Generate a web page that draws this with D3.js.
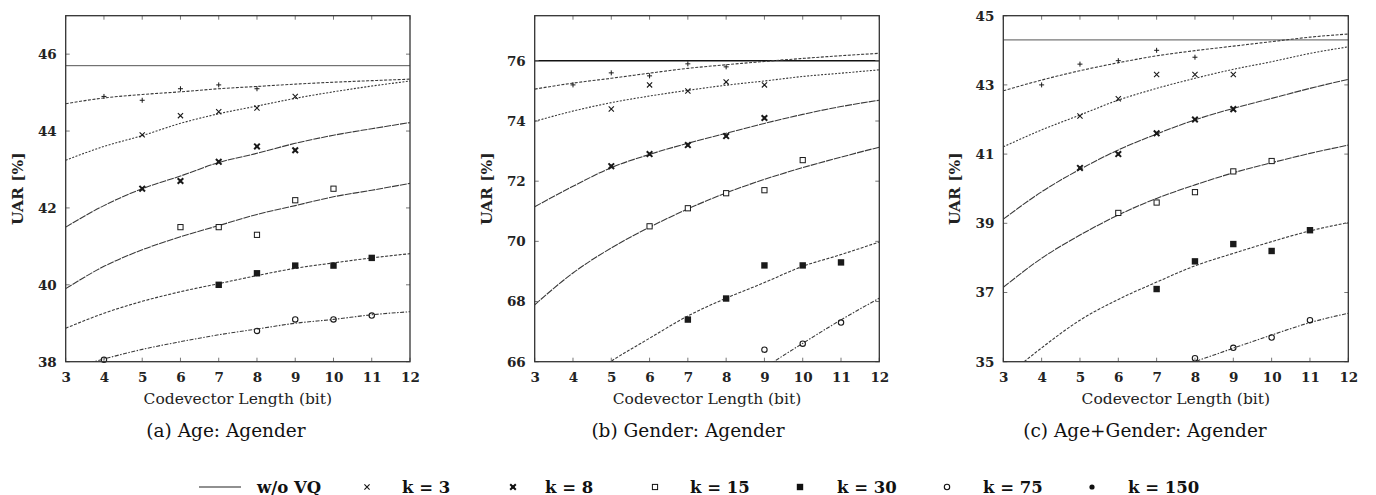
<!DOCTYPE html>
<html>
<head>
<meta charset="utf-8">
<script src="https://cdn.jsdelivr.net/npm/d3@7"></script>
<style>
  body { margin: 0; background: #fff; }
  svg { display: block; }
</style>
</head>
<body>
<div id="chart"></div>
<script>
// codevector lengths
var curveBits = [3, 4, 5, 6, 7, 8, 9, 10, 11, 12];
var pointBits = [4, 5, 6, 7, 8, 9, 10, 11];
var xTicks = [3, 4, 5, 6, 7, 8, 9, 10, 11, 12];

// legend
var legendLabels = ["w/o VQ", "k = 3", "k = 8", "k = 15", "k = 30", "k = 75", "k = 150"];
var legendSymbols = ["line", "cross", "star", "square", "fsquare", "circle", "dot"];
// markers used inside the plots, top series to bottom
var plotSymbols = ["plus", "cross", "star", "square", "fsquare", "circle"];

// (a) Age: Agender
var ageTicks = [38, 40, 42, 44, 46];
var ageNoVQ = 45.7;
var agePoints = [
  [44.9, 44.8, 45.1, 45.2, 45.1, null, null, null],
  [null, 43.9, 44.4, 44.5, 44.6, 44.9, null, null],
  [null, 42.5, 42.7, 43.2, 43.6, 43.5, null, null],
  [null, null, 41.5, 41.5, 41.3, 42.2, 42.5, null],
  [null, null, null, 40.0, 40.3, 40.5, 40.5, 40.7],
  [38.05, null, null, null, 38.8, 39.1, 39.1, 39.2]
];
var ageCurves = [
  [44.71, 44.86, 44.95, 45.02, 45.10, 45.16, 45.22, 45.27, 45.31, 45.35],
  [43.24, 43.60, 43.88, 44.20, 44.45, 44.65, 44.85, 45.02, 45.17, 45.30],
  [41.50, 42.06, 42.50, 42.83, 43.18, 43.42, 43.68, 43.89, 44.06, 44.22],
  [39.90, 40.48, 40.91, 41.25, 41.54, 41.83, 42.06, 42.29, 42.46, 42.64],
  [38.87, 39.26, 39.57, 39.82, 40.03, 40.24, 40.43, 40.57, 40.70, 40.81],
  [37.78, 38.07, 38.32, 38.52, 38.70, 38.85, 39.00, 39.10, 39.22, 39.30]
];

// (b) Gender: Agender
var genderTicks = [66, 68, 70, 72, 74, 76];
var genderNoVQ = 76.0;
var genderPoints = [
  [75.2, 75.6, 75.5, 75.9, 75.8, null, null, null],
  [null, 74.4, 75.2, 75.0, 75.3, 75.2, null, null],
  [null, 72.5, 72.9, 73.2, 73.5, 74.1, null, null],
  [null, null, 70.5, 71.1, 71.6, 71.7, 72.7, null],
  [null, null, null, 67.4, 68.1, 69.2, 69.2, 69.3],
  [null, null, null, null, null, 66.4, 66.6, 67.3]
];
var genderCurves = [
  [75.06, 75.26, 75.42, 75.59, 75.75, 75.87, 75.98, 76.08, 76.17, 76.25],
  [73.99, 74.33, 74.61, 74.83, 75.02, 75.19, 75.33, 75.48, 75.59, 75.70],
  [71.15, 71.83, 72.45, 72.89, 73.26, 73.59, 73.92, 74.22, 74.48, 74.69],
  [67.89, 68.95, 69.78, 70.47, 71.08, 71.61, 72.06, 72.45, 72.80, 73.13],
  [64.20, 65.15, 66.02, 66.78, 67.52, 68.11, 68.63, 69.17, 69.56, 69.98],
  [null, null, null, null, null, 64.95, 65.80, 66.61, 67.39, 68.11]
];

// (c) Age+Gender: Agender
var bothTicks = [35, 37, 39, 41, 43, 45];
var bothNoVQ = 44.3;
var bothPoints = [
  [43.0, 43.6, 43.7, 44.0, 43.8, null, null, null],
  [null, 42.1, 42.6, 43.3, 43.3, 43.3, null, null],
  [null, 40.6, 41.0, 41.6, 42.0, 42.3, null, null],
  [null, null, 39.3, 39.6, 39.9, 40.5, 40.8, null],
  [null, null, null, 37.1, 37.9, 38.4, 38.2, 38.8],
  [null, null, null, null, 35.1, 35.4, 35.7, 36.2]
];
var bothCurves = [
  [42.83, 43.14, 43.41, 43.64, 43.84, 43.99, 44.12, 44.25, 44.38, 44.47],
  [41.21, 41.70, 42.13, 42.56, 42.90, 43.19, 43.45, 43.67, 43.91, 44.10],
  [39.12, 39.91, 40.56, 41.12, 41.58, 41.99, 42.32, 42.61, 42.90, 43.16],
  [37.15, 37.99, 38.66, 39.24, 39.72, 40.11, 40.46, 40.75, 41.02, 41.26],
  [34.50, 35.40, 36.20, 36.80, 37.30, 37.77, 38.13, 38.47, 38.78, 39.02],
  [null, null, null, null, 34.58, 35.00, 35.39, 35.77, 36.13, 36.40]
];

var width = 1376;
var height = 495;
var serif = "'DejaVu Serif', 'Liberation Serif', serif";

var panels = [
  { left: 65.7, right: 410, top: 15.7, bottom: 361.7, domain: [38, 47], ticks: ageTicks,
    noVQ: ageNoVQ, points: agePoints, curves: ageCurves, caption: "(a) Age: Agender", labelX: 23,
    captionX: 226, noVQStroke: "#555", noVQWidth: 1 },
  { left: 534.7, right: 879.3, top: 15.7, bottom: 361.7, domain: [66, 77.5], ticks: genderTicks,
    noVQ: genderNoVQ, points: genderPoints, curves: genderCurves, caption: "(b) Gender: Agender", labelX: 492,
    captionX: 688, noVQStroke: "#111", noVQWidth: 1.5 },
  { left: 1003.3, right: 1348.3, top: 15.7, bottom: 361.7, domain: [35, 45], ticks: bothTicks,
    noVQ: bothNoVQ, points: bothPoints, curves: bothCurves, caption: "(c) Age+Gender: Agender", labelX: 960,
    captionX: 1145, noVQStroke: "#555", noVQWidth: 1 }
];

// dash pattern per fitted curve, top to bottom
var curveDash = ["3,1.5", "2,1.5", "7,1", "7,1", "3,1.5", "4,1.5,1.5,1.5"];

var svg = d3.select("#chart").append("svg")
    .attr("width", width)
    .attr("height", height);

function drawSymbol(g, type, cx, cy, color) {
  var s;
  if (type === "plus") {
    s = 2.5;
    g.append("path")
      .attr("d", "M" + (cx - s) + "," + cy + "H" + (cx + s) + "M" + cx + "," + (cy - s) + "V" + (cy + s))
      .attr("stroke", color).attr("stroke-width", 1).attr("fill", "none");
  } else if (type === "cross") {
    s = 2.6;
    g.append("path")
      .attr("d", "M" + (cx - s) + "," + (cy - s) + "L" + (cx + s) + "," + (cy + s) +
                 "M" + (cx - s) + "," + (cy + s) + "L" + (cx + s) + "," + (cy - s))
      .attr("stroke", color).attr("stroke-width", 1.1).attr("fill", "none");
  } else if (type === "star") {
    s = 2.8;
    g.append("path")
      .attr("d", "M" + (cx - s) + "," + (cy - s) + "L" + (cx + s) + "," + (cy + s) +
                 "M" + (cx - s) + "," + (cy + s) + "L" + (cx + s) + "," + (cy - s))
      .attr("stroke", color).attr("stroke-width", 2).attr("fill", "none");
    g.append("rect").attr("x", cx - 1.5).attr("y", cy - 1.5).attr("width", 3).attr("height", 3)
      .attr("fill", color);
  } else if (type === "square") {
    s = 2.6;
    g.append("rect").attr("x", cx - s).attr("y", cy - s).attr("width", 2 * s).attr("height", 2 * s)
      .attr("fill", "#fff").attr("stroke", color).attr("stroke-width", 1);
  } else if (type === "fsquare") {
    s = 3.2;
    g.append("rect").attr("x", cx - s).attr("y", cy - s).attr("width", 2 * s).attr("height", 2 * s)
      .attr("fill", color);
  } else if (type === "circle") {
    g.append("circle").attr("cx", cx).attr("cy", cy).attr("r", 2.7)
      .attr("fill", "none").attr("stroke", color).attr("stroke-width", 1.1);
  } else if (type === "dot") {
    g.append("circle").attr("cx", cx).attr("cy", cy).attr("r", 2.6).attr("fill", color);
  }
}

panels.forEach(function (p, pi) {
  var x = d3.scaleLinear().domain([3, 12]).range([p.left, p.right]);
  var y = d3.scaleLinear().domain(p.domain).range([p.bottom, p.top]);

  var g = svg.append("g");

  var clipId = "clip" + pi;
  svg.append("clipPath").attr("id", clipId)
    .append("rect")
      .attr("x", p.left).attr("y", p.top)
      .attr("width", p.right - p.left).attr("height", p.bottom - p.top);

  var plot = g.append("g").attr("clip-path", "url(#" + clipId + ")");

  // w/o VQ reference line
  plot.append("line")
    .attr("x1", x(3)).attr("x2", x(12))
    .attr("y1", y(p.noVQ)).attr("y2", y(p.noVQ))
    .attr("stroke", p.noVQStroke)
    .attr("stroke-width", p.noVQWidth);

  // fitted curves
  var line = d3.line()
    .defined(function (d) { return d != null; })
    .x(function (d, i) { return x(curveBits[i]); })
    .y(function (d) { return y(d); })
    .curve(d3.curveMonotoneX);

  p.curves.forEach(function (c, ci) {
    plot.append("path")
      .datum(c)
      .attr("d", line)
      .attr("fill", "none")
      .attr("stroke", "#3a3a3a")
      .attr("stroke-width", 1.1)
      .attr("stroke-dasharray", curveDash[ci]);
  });

  // measured points
  p.points.forEach(function (row, si) {
    row.forEach(function (v, i) {
      if (v == null) return;
      drawSymbol(g, plotSymbols[si], x(pointBits[i]), y(v), "#1a1a1a");
    });
  });

  // inward ticks on all four sides
  var tickLen = 4;
  xTicks.forEach(function (t) {
    g.append("line").attr("x1", x(t)).attr("x2", x(t))
      .attr("y1", p.bottom).attr("y2", p.bottom - tickLen)
      .attr("stroke", "#777").attr("stroke-width", 1);
    g.append("line").attr("x1", x(t)).attr("x2", x(t))
      .attr("y1", p.top).attr("y2", p.top + tickLen)
      .attr("stroke", "#777").attr("stroke-width", 1);
  });
  p.ticks.forEach(function (t) {
    g.append("line").attr("x1", p.left).attr("x2", p.left + tickLen)
      .attr("y1", y(t)).attr("y2", y(t))
      .attr("stroke", "#777").attr("stroke-width", 1);
    g.append("line").attr("x1", p.right).attr("x2", p.right - tickLen)
      .attr("y1", y(t)).attr("y2", y(t))
      .attr("stroke", "#777").attr("stroke-width", 1);
  });

  // frame
  g.append("rect")
    .attr("x", p.left).attr("y", p.top)
    .attr("width", p.right - p.left).attr("height", p.bottom - p.top)
    .attr("fill", "none")
    .attr("stroke", "#333")
    .attr("stroke-width", 1.3);

  // x Axis labels
  var xAxisCall = d3.axisBottom(x).tickValues(xTicks).tickSize(0).tickPadding(0);
  var xAxis = g.append("g")
    .attr("class", "x axis")
    .attr("transform", "translate(0, " + (p.bottom + 20) + ")")
    .call(xAxisCall);
  xAxis.select(".domain").remove();
  xAxis.selectAll(".tick text")
    .attr("dy", 0)
    .attr("y", 0)
    .style("font-family", serif)
    .style("font-size", "13.5px")
    .style("font-weight", "bold")
    .style("fill", "#222");

  // y Axis labels
  var yAxisCall = d3.axisLeft(y).tickValues(p.ticks).tickSize(0).tickPadding(9);
  var yAxis = g.append("g")
    .attr("class", "y axis")
    .attr("transform", "translate(" + p.left + ", 0)")
    .call(yAxisCall);
  yAxis.select(".domain").remove();
  yAxis.selectAll(".tick text")
    .style("font-family", serif)
    .style("font-size", "13.5px")
    .style("font-weight", "bold")
    .style("fill", "#222");

  // x Label
  g.append("text")
    .attr("x", (p.left + p.right) / 2)
    .attr("y", p.bottom + 42)
    .attr("text-anchor", "middle")
    .style("font-family", serif)
    .style("font-size", "15.5px")
    .style("fill", "#222")
    .text("Codevector Length (bit)");

  // y Label
  g.append("text")
    .attr("x", -((p.top + p.bottom) / 2))
    .attr("y", p.labelX)
    .attr("text-anchor", "middle")
    .attr("transform", "rotate(-90)")
    .style("font-family", serif)
    .style("font-size", "15.5px")
    .style("font-weight", "bold")
    .style("fill", "#222")
    .text("UAR [%]");

  // caption
  g.append("text")
    .attr("x", p.captionX)
    .attr("y", 437)
    .attr("text-anchor", "middle")
    .style("font-family", serif)
    .style("font-size", "18.5px")
    .style("fill", "#111")
    .text(p.caption);
});

// legend
var legendSymbolX = [220, 367, 513, 655, 800, 947, 1092];
var legendTextX = [257, 402, 545, 690, 837, 983, 1128];
var legendY = 487;
var legend = svg.append("g").attr("class", "legend");

legendLabels.forEach(function (label, i) {
  if (legendSymbols[i] === "line") {
    legend.append("line")
      .attr("x1", legendSymbolX[i] - 21).attr("x2", legendSymbolX[i] + 21)
      .attr("y1", legendY).attr("y2", legendY)
      .attr("stroke", "#222").attr("stroke-width", 1.2);
  } else {
    drawSymbol(legend, legendSymbols[i], legendSymbolX[i], legendY, "#111");
  }
  legend.append("text")
    .attr("x", legendTextX[i])
    .attr("y", legendY + 5.5)
    .style("font-family", serif)
    .style("font-size", "16.5px")
    .style("font-weight", "bold")
    .style("fill", "#111")
    .text(label);
});
</script>
</body>
</html>
